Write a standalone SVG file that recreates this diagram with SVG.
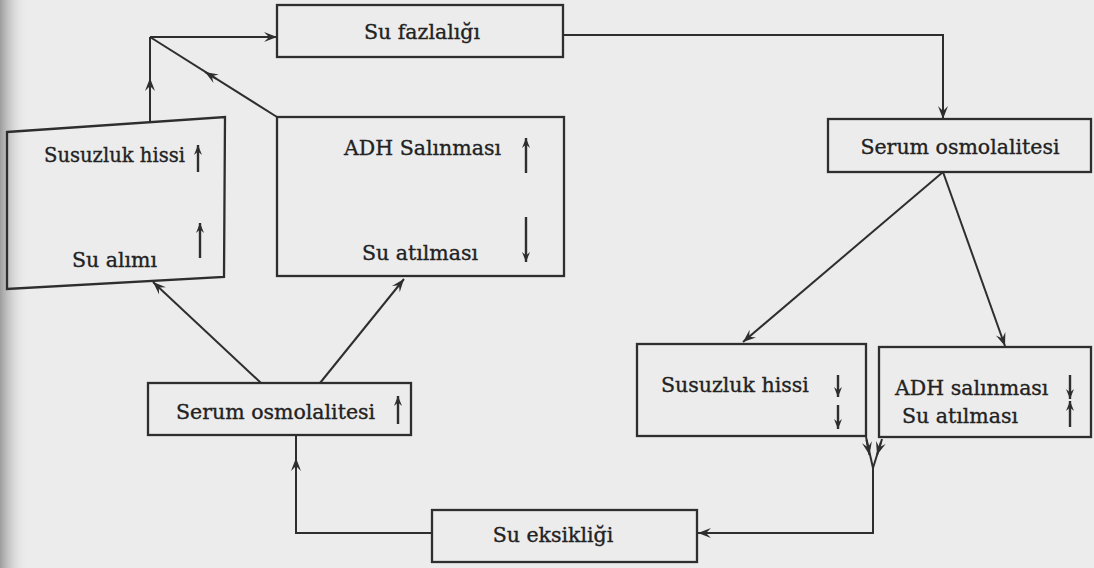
<svg xmlns="http://www.w3.org/2000/svg" width="1094" height="568" viewBox="0 0 1094 568">
<defs>
<linearGradient id="edge" x1="0" y1="0" x2="1" y2="0">
<stop offset="0" stop-color="#9c9c9c"/>
<stop offset="1" stop-color="#ececec" stop-opacity="0"/>
</linearGradient>
<marker id="ah" viewBox="-13 -6 14 12" refX="0" refY="0" markerWidth="14" markerHeight="12" markerUnits="userSpaceOnUse" orient="auto">
<path d="M0,0 L-13,-5 L-8,0 L-13,5 Z" fill="#2e2e2e"/>
</marker>
<marker id="sa" viewBox="-10 -5 11 10" refX="0" refY="0" markerWidth="11" markerHeight="10" markerUnits="userSpaceOnUse" orient="auto">
<path d="M0,0 L-10,-4 L-6.5,0 L-10,4 Z" fill="#2e2e2e"/>
</marker>
<style>
.box{fill:none;stroke:#2e2e2e;stroke-width:2.3}
.t{font-family:"DejaVu Serif","Liberation Serif",serif;font-size:20.5px;fill:#222;stroke:#222;stroke-width:0.35}
.c{fill:none;stroke:#2e2e2e;stroke-width:2}
.a{marker-end:url(#ah)}
.s{fill:none;stroke:#2e2e2e;stroke-width:2.4;marker-end:url(#sa)}
</style>
</defs>
<rect x="0" y="0" width="1094" height="568" fill="#ececec"/>
<rect x="0" y="0" width="28" height="568" fill="url(#edge)"/>

<g id="connectors">
<path class="c" d="M150,122 L150,37"/>
<path class="c a" d="M150,37 L277,37"/>
<path class="c a" d="M150,90 L150,78"/>
<path class="c" d="M277,117 L150,37"/>
<path class="c a" d="M216,78.7 L205,72"/>
<path class="c a" d="M563,35 L943,35 L943,119"/>
<path class="c a" d="M943,172 L743,342"/>
<path class="c a" d="M943,172 L1005,346"/>
<path class="c" d="M866,437 L873,468"/>
<path class="c a" d="M866.5,440 L869.5,455"/>
<path class="c" d="M882,439 L873,468"/>
<path class="c a" d="M881,442 L877,455"/>
<path class="c a" d="M873,468 L873,533 L698,533"/>
<path class="c" d="M432,533 L296,533 L296,436"/>
<path class="c a" d="M296,472 L296,458"/>
<path class="c a" d="M261,383 L153,282"/>
<path class="c a" d="M320,383 L404,279"/>
</g>

<g id="su-fazlaligi">
<rect class="box" x="277" y="5" width="286" height="52"/>
<text class="t" x="422" y="39" text-anchor="middle">Su fazlalığı</text>
</g>

<g id="susuzluk-su-alimi">
<path class="box" d="M7,132 L225,117 L224,277 L7,289 Z"/>
<text class="t" x="44" y="162" textLength="141" lengthAdjust="spacingAndGlyphs">Susuzluk hissi</text>
<line class="s" x1="198" y1="172" x2="198" y2="145"/>
<text class="t" x="72" y="267">Su alımı</text>
<line class="s" x1="200" y1="258" x2="200" y2="223"/>
</g>

<g id="adh-salinmasi-up">
<rect class="box" x="277" y="117" width="287" height="159"/>
<text class="t" x="344" y="155">ADH Salınması</text>
<line class="s" x1="526" y1="173" x2="526" y2="138"/>
<text class="t" x="362" y="260">Su atılması</text>
<line class="s" x1="526" y1="217" x2="526" y2="262"/>
</g>

<g id="serum-osmolalitesi-up">
<rect class="box" x="148" y="383" width="263" height="52"/>
<text class="t" x="176" y="419">Serum osmolalitesi</text>
<line class="s" x1="398" y1="424" x2="398" y2="396"/>
</g>

<g id="su-eksikligi">
<rect class="box" x="432" y="510" width="265" height="52"/>
<text class="t" x="553" y="542" text-anchor="middle">Su eksikliği</text>
</g>

<g id="serum-osmolalitesi">
<rect class="box" x="828" y="119" width="263" height="53"/>
<text class="t" x="960" y="154" text-anchor="middle">Serum osmolalitesi</text>
</g>

<g id="susuzluk-down">
<rect class="box" x="637" y="344" width="229" height="92"/>
<text class="t" x="661" y="392">Susuzluk hissi</text>
<line class="s" x1="838" y1="375" x2="838" y2="397"/>
<line class="s" x1="838" y1="405" x2="838" y2="429"/>
</g>

<g id="adh-salinmasi-down">
<rect class="box" x="879" y="347" width="212" height="90"/>
<text class="t" x="895" y="395">ADH salınması</text>
<line class="s" x1="1070" y1="375" x2="1070" y2="399"/>
<text class="t" x="902" y="423">Su atılması</text>
<line class="s" x1="1070" y1="427" x2="1070" y2="401"/>
</g>
</svg>
